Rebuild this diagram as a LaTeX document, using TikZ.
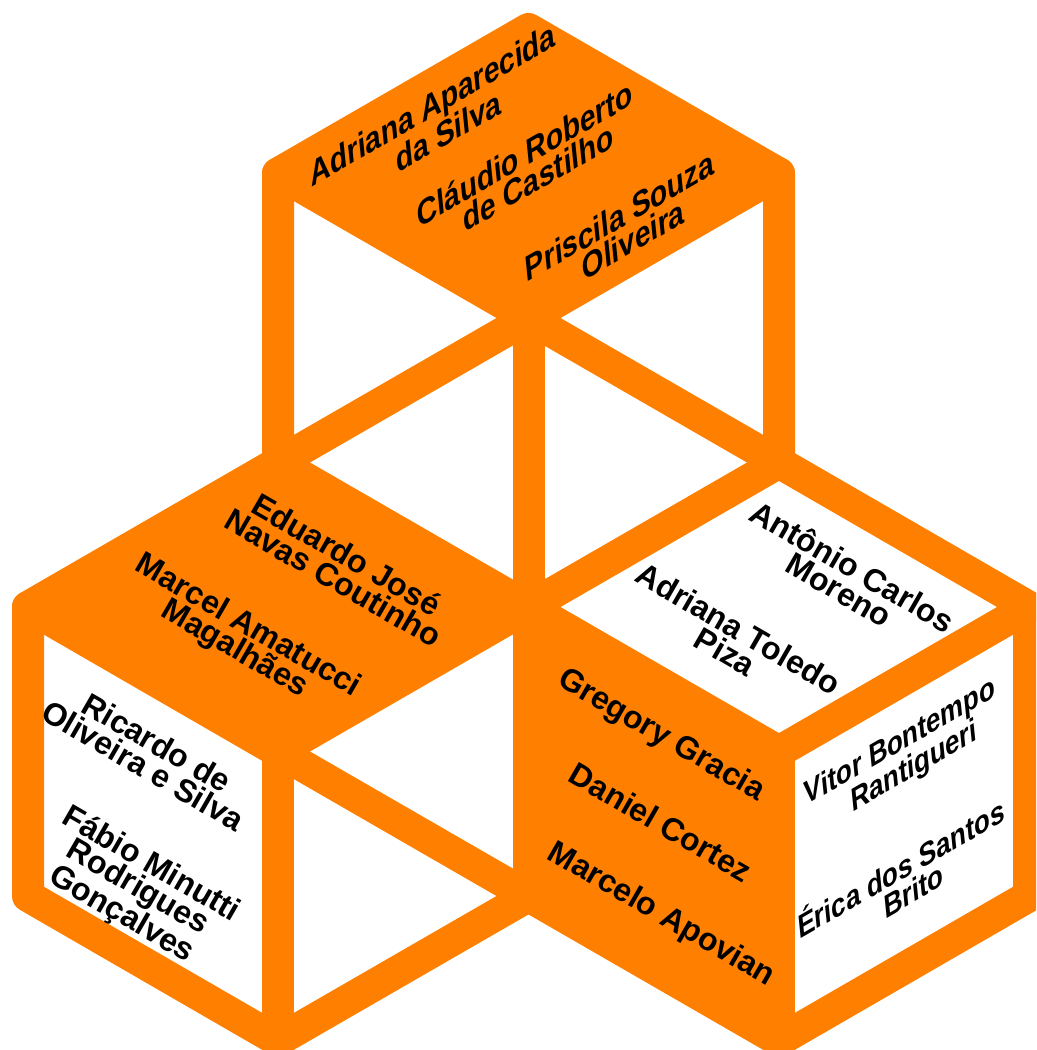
\documentclass[tikz,border=0pt]{standalone}
\usepackage{fontspec}
\setmainfont{Liberation Sans}
\newfontfamily\slantbold{Liberation Sans Bold}[FakeSlant=0.45]
\definecolor{cubeorange}{RGB}{255,128,0}
\begin{document}
\begin{tikzpicture}[x=0.75pt,y=-0.75pt,
  edge/.style={draw=cubeorange,line width=24pt,line join=round,line cap=round},
  face/.style={fill=cubeorange},
  nm/.style={align=center,inner sep=0pt,text=black},
  upname/.style={nm,font=\fontsize{24}{20.5}\selectfont\slantbold,rotate=30},
  sidename/.style={nm,font=\fontsize{22}{19}\selectfont\slantbold,rotate=30},
  dnname/.style={nm,font=\fontsize{24}{20}\selectfont\bfseries,rotate=-30}]
\useasboundingbox (0,0) rectangle (1036,1050);
\clip (0,0) rectangle (1036,1050);
% vertices
\coordinate (T0) at (528.5,29);
\coordinate (T1) at (278,173.5);
\coordinate (T2) at (779,173.5);
\coordinate (TC) at (528.5,318);
\coordinate (T3) at (278,462.5);
\coordinate (T4) at (779,462.5);
\coordinate (TB) at (528.5,607);
\coordinate (L1) at (28,607);
\coordinate (LC) at (278,751.5);
\coordinate (L2) at (28,896);
\coordinate (LB) at (278,1040.5);
\coordinate (L3) at (528.5,896);
\coordinate (R1) at (1029,607);
\coordinate (RC) at (779,751.5);
\coordinate (R2) at (1029,896);
\coordinate (RB) at (779,1040.5);
% filled faces
\fill[face] (T0) -- (T1) -- (TC) -- (T2) -- cycle;
\fill[face] (T3) -- (L1) -- (LC) -- (TB) -- cycle;
\fill[face] (TB) -- (RC) -- (RB) -- (L3) -- cycle;
% edges
\draw[edge] (T3) -- (T1) -- (T0) -- (T2) -- (T4);
\draw[edge] (T1) -- (TC) -- (T2);
\draw[edge] (TC) -- (TB) -- (L3);
\draw[edge] (T3) -- (TC) -- (T4);
\draw[edge] (T3) -- (TB) -- (T4);
\draw[edge] (T3) -- (L1) -- (L2) -- (LB) -- (L3) -- (RB) -- (R2) -- (R1) -- (T4);
\draw[edge] (L1) -- (LC) -- (TB) -- (RC) -- (R1);
\draw[edge] (LC) -- (LB);
\draw[edge] (RC) -- (RB);
\draw[edge] (LC) -- (L3);
% names: top cube, top face
\node[upname] (n1) at (436,120) {Adriana Aparecida\\da Silva};
\node[upname] (n2) at (527,168) {Cláudio Roberto\\de Castilho};
\node[upname] (n3) at (622,230) {Priscila Souza\\Oliveira};
% bottom-left cube, top face
\node[dnname] (n4) at (340,566) {Eduardo José\\Navas Coutinho};
\node[dnname] (n5) at (241,638) {Marcel Amatucci\\Magalhães};
% bottom-left cube, left face
\node[dnname] (n6) at (150,754) {Ricardo de\\Oliveira e Silva};
\node[dnname] (n7) at (136,890) {Fábio Minutti\\Rodrigues\\Gonçalves};
% bottom-right cube, top face
\node[dnname] (n8) at (846,578) {Antônio Carlos\\Moreno};
\node[dnname] (n9) at (732,640) {Adriana Toledo\\Piza};
% bottom-right cube, left face
\node[dnname] (n10) at (661,736) {Gregory Gracia};
\node[dnname] (n11) at (661,822) {Daniel Cortez};
\node[dnname] (n12) at (661,915) {Marcelo Apovian};
% bottom-right cube, right face
\node[sidename] (n13) at (904,757) {Vitor Bontempo\\Rantigueri};
\node[sidename] (n14) at (902,880) {Érica dos Santos\\Brito};
\end{tikzpicture}
\end{document}
